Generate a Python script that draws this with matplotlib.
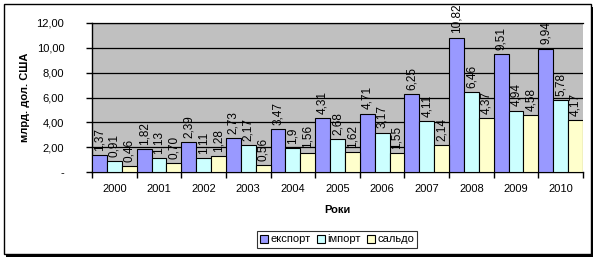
import numpy as np
import matplotlib
matplotlib.use('Agg')
import matplotlib.pyplot as plt
from matplotlib.patches import Rectangle, Patch

plt.rcParams['font.family'] = ['Liberation Sans', 'DejaVu Sans']

years = ['2000', '2001', '2002', '2003', '2004', '2005', '2006', '2007', '2008', '2009', '2010']
export = [1.37, 1.82, 2.39, 2.73, 3.47, 4.31, 4.71, 6.25, 10.82, 9.51, 9.94]
imports = [0.91, 1.13, 1.11, 2.17, 1.9, 2.68, 3.17, 4.11, 6.46, 4.94, 5.78]
saldo = [0.46, 0.70, 1.28, 0.56, 1.56, 1.62, 1.55, 2.14, 4.37, 4.58, 4.17]
series_names = ['експорт', 'імпорт', 'сальдо']
colors = ['#9999FF', '#CCFFFF', '#FFFFCC']

W, H = 597, 259
fig = plt.figure(figsize=(W / 100, H / 100), dpi=100)

# chart border with shadow
fig.patches.append(Rectangle((6 / W, 2 / H), 587 / W, 250 / H, transform=fig.transFigure,
                             facecolor='black', edgecolor='none', zorder=-3))
fig.patches.append(Rectangle((4 / W, 5 / H), 587 / W, 250 / H, transform=fig.transFigure,
                             facecolor='white', edgecolor='black', lw=1, zorder=-2))

ax = fig.add_axes([92 / W, (H - 172) / H, (583 - 92) / W, (172 - 23) / H])
ax.set_facecolor('#C0C0C0')

x = np.arange(len(years))
bw = 1 / 3
for i, (vals, c) in enumerate(zip([export, imports, saldo], colors)):
    pos = x - 0.5 + bw * (i + 0.5)
    ax.bar(pos, vals, width=bw, color=c, edgecolor='black', lw=0.8, zorder=3)
    for p, v in zip(pos, vals):
        lbl = ('%.2f' % v).replace('.', ',')
        if i == 1 and v == 1.9:
            lbl = '1,9'
        ax.annotate(lbl, (p, v), xytext=(0, 3), textcoords='offset points',
                    rotation=90, ha='center', va='bottom', fontsize=8.5, zorder=4,
                    annotation_clip=False)

ax.set_xlim(-0.5, len(years) - 0.5)
ax.set_ylim(0, 12)
ax.set_yticks(np.arange(0, 13, 2))
ax.set_yticklabels(['-'] + [('%.2f' % v).replace('.', ',') for v in np.arange(2, 13, 2)])
ax.yaxis.grid(True, color='black', lw=0.9, zorder=1)
ax.set_axisbelow(True)
ax.set_xticks(np.arange(-0.5, len(years), 1))
ax.set_xticklabels([])
ax.set_xticks(x, minor=True)
ax.set_xticklabels(years, minor=True)
ax.tick_params(axis='x', which='minor', length=0, pad=9, labelsize=8)
ax.tick_params(axis='x', which='major', length=4, width=1, direction='out')
ax.tick_params(axis='y', length=4, width=1, direction='out', pad=16, labelsize=8)
ax.spines['right'].set_visible(False)
ax.spines['top'].set_linewidth(0.9)
ax.spines['left'].set_linewidth(1)
ax.spines['bottom'].set_linewidth(1)

fig.text(25 / W, 1 - 97 / H, 'млрд. дол. США', rotation=90, ha='center', va='center',
         fontsize=8, fontweight='bold')
fig.text(337 / W, 1 - 210 / H, 'Роки', ha='center', va='center',
         fontsize=8, fontweight='bold')

handles = [Patch(facecolor=c, edgecolor='black', lw=0.8) for c in colors]
leg = fig.legend(handles, series_names, loc='center', bbox_to_anchor=(337 / W, 1 - 239.5 / H),
                 ncol=3, fontsize=8, frameon=True, fancybox=False, handlelength=0.7,
                 handleheight=0.7, handletextpad=0.2, columnspacing=0.6,
                 borderpad=0.3, borderaxespad=0)
leg.get_frame().set_edgecolor('black')
leg.get_frame().set_linewidth(0.8)

fig.savefig('out.png', dpi=100)
